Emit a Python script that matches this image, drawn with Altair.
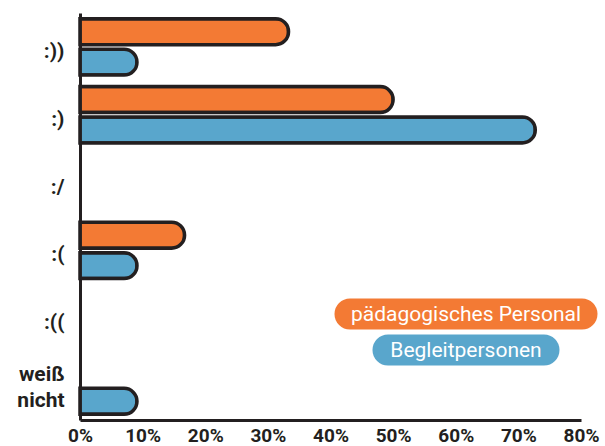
import altair as alt
import pandas as pd

categories = [":))", ":)", ":/", ":(", ":((", "weiß nicht"]
series_names = ["pädagogisches Personal", "Begleitpersonen"]
paed = [0.333, 0.50, 0.0, 0.167, 0.0, 0.0]
begl = [0.091, 0.727, 0.0, 0.091, 0.0, 0.091]
x_ticks = [0, 0.1, 0.2, 0.3, 0.4, 0.5, 0.6, 0.7, 0.8]
colors = ["#f37a34", "#59a6cc"]
dark = "#231f20"

rows = []
for c, a, b in zip(categories, paed, begl):
    rows.append({"cat": c, "series": series_names[0], "value": a})
    rows.append({"cat": c, "series": series_names[1], "value": b})
df = pd.DataFrame(rows)

y_enc = alt.Y("cat:N", sort=categories,
              scale=alt.Scale(domain=categories, paddingInner=0.17, paddingOuter=0.085),
              axis=alt.Axis(title=None, domainColor=dark, domainWidth=3, ticks=False,
                            labelFont="Roboto", labelFontWeight="bold", labelFontSize=21,
                            labelColor=dark, labelPadding=16, labelLineHeight=26,
                            labelOffset={"condition": {"test": "datum.value == 'weiß nicht'", "value": -11},
                                         "value": 5},
                            labelExpr="datum.value == 'weiß nicht' ? ['weiß', 'nicht'] : datum.value"))
x_enc = alt.X("value:Q", scale=alt.Scale(domain=[0, 0.8], nice=False),
              axis=alt.Axis(title=None, values=x_ticks, format=".0%", grid=False, ticks=False,
                            domainColor=dark, domainWidth=3, labelFont="Roboto",
                            labelFontWeight="bold", labelFontSize=19, labelColor=dark,
                            labelPadding=6, labelFlush=False))
yoff = alt.YOffset("series:N", sort=series_names, scale=alt.Scale(domain=series_names, paddingInner=0.15))

base = alt.Chart(df).transform_filter("datum.value > 0")

bars = base.mark_bar(cornerRadiusEnd=13, stroke=dark, strokeWidth=3.5).encode(
    x=x_enc, y=y_enc, yOffset=yoff,
    color=alt.Color("series:N", scale=alt.Scale(domain=series_names, range=colors), legend=None))

pill_x1 = [270, 308]
pill_x2 = [502, 464]
pill_y = [301, 337]
leg_layers = []
for i, name in enumerate(series_names):
    d = alt.Chart(pd.DataFrame({"series": [name]}))
    leg_layers.append(d.mark_rule(strokeCap="round", strokeWidth=31, color=colors[i]).encode(
        x=alt.value(pill_x1[i]), x2=alt.value(pill_x2[i]), y=alt.value(pill_y[i])))
    leg_layers.append(d.mark_text(font="Roboto", fontSize=21, color="white", align="center",
                                  baseline="middle").encode(
        text="series:N", x=alt.value((pill_x1[i] + pill_x2[i]) / 2), y=alt.value(pill_y[i] + 1)))

chart = alt.layer(bars, *leg_layers).properties(
    width=501, height=407,
    autosize=alt.AutoSizeParams(type="none"),
    padding={"left": 80, "top": 13, "right": 24, "bottom": 26},
    background="white",
).configure_view(stroke=None)

chart.save("out.html", embed_options={"renderer": "svg", "actions": False})
